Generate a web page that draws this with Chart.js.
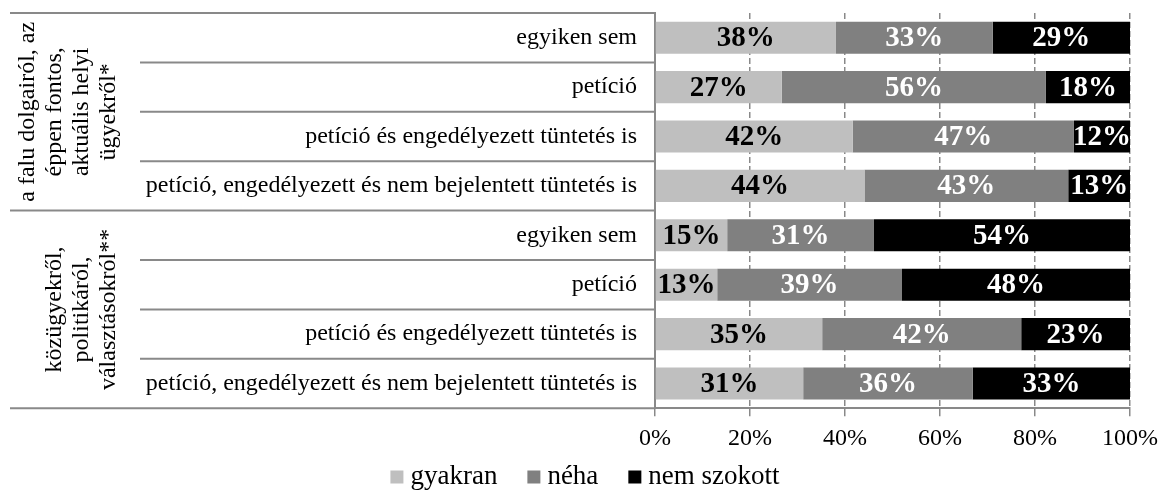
<!DOCTYPE html>
<html>
<head>
<meta charset="utf-8">
<script src="https://cdn.jsdelivr.net/npm/chart.js@4/dist/chart.umd.min.js"></script>
<style>
  html, body { margin: 0; padding: 0; background: #fff; }
  #wrap { width: 1166px; height: 491px; }
</style>
</head>
<body>
<div id="wrap"><canvas id="chart" width="1166" height="491"></canvas></div>
<script>
const categories = [
  'egyiken sem',
  'petíció',
  'petíció és engedélyezett tüntetés is',
  'petíció, engedélyezett és nem bejelentett tüntetés is',
  'egyiken sem',
  'petíció',
  'petíció és engedélyezett tüntetés is',
  'petíció, engedélyezett és nem bejelentett tüntetés is',
];
const groupLabels = [
  ['a falu dolgairól, az', 'éppen fontos,', 'aktuális helyi', 'ügyekről*'],
  ['közügyekről,', 'politikáról,', 'választásokról**'],
];
const groupSizes = [4, 4];
const seriesNames = ['gyakran', 'néha', 'nem szokott'];
const gyakran = [38.1, 26.7, 41.6, 44.1, 15.2, 13.1, 35.2, 31.2];
const neha = [33.0, 55.6, 46.6, 42.9, 30.9, 38.9, 41.9, 35.7];
const nemSzokott = [28.9, 17.7, 11.8, 13.0, 53.9, 48.0, 22.9, 33.1];
const xTicks = [0, 20, 40, 60, 80, 100];

const FONT = '"Liberation Serif", "Times New Roman", serif';
const LINE = '#898989';
const colors = ['#bfbfbf', '#808080', '#000000'];
const labelColors = ['#000000', '#ffffff', '#ffffff'];

// bold percent labels centred in each segment
const segmentLabels = {
  id: 'segmentLabels',
  afterDatasetsDraw(chart) {
    const { ctx } = chart;
    ctx.save();
    ctx.font = 'bold 29px ' + FONT;
    ctx.textAlign = 'center';
    ctx.textBaseline = 'middle';
    chart.data.datasets.forEach((ds, di) => {
      chart.getDatasetMeta(di).data.forEach((bar, i) => {
        ctx.fillStyle = labelColors[di];
        ctx.fillText(Math.round(ds.data[i]) + '%', (bar.x + bar.base) / 2, bar.y + 1);
      });
    });
    ctx.restore();
  },
};

// left-hand table lines, rotated group titles and the legend
const groupTable = {
  id: 'groupTable',
  afterDraw(chart) {
    const { ctx, chartArea, scales } = chart;
    const y = scales.y;
    const left = chartArea.left;
    const edge = i => i <= 0 ? chartArea.top
      : i >= categories.length ? chartArea.bottom
      : (y.getPixelForValue(i - 1) + y.getPixelForValue(i)) / 2;

    ctx.save();
    ctx.strokeStyle = LINE;
    ctx.lineWidth = 2;
    ctx.beginPath();
    let start = 0;
    const groupEdges = [0];
    groupSizes.forEach(n => { start += n; groupEdges.push(start); });
    for (let i = 0; i <= categories.length; i++) {
      const py = edge(i);
      const x0 = groupEdges.includes(i) ? 10 : 140;
      ctx.moveTo(x0, py);
      ctx.lineTo(left, py);
    }
    ctx.stroke();

    ctx.fillStyle = '#000';
    ctx.font = '24px ' + FONT;
    ctx.textAlign = 'center';
    ctx.textBaseline = 'middle';
    groupLabels.forEach((lines, g) => {
      const cy = (edge(groupEdges[g]) + edge(groupEdges[g + 1])) / 2;
      const n = lines.length;
      lines.forEach((txt, k) => {
        const cx = 109 - (n - 1 - k) * 27;
        ctx.save();
        ctx.translate(cx, cy);
        ctx.rotate(-Math.PI / 2);
        ctx.fillText(txt, 0, 0);
        ctx.restore();
      });
    });

    // legend
    ctx.font = '27px ' + FONT;
    ctx.textAlign = 'left';
    const box = 13, gap = 7, spacing = 30, ly = 477;
    const widths = seriesNames.map(s => box + gap + ctx.measureText(s).width);
    const total = widths.reduce((a, b) => a + b, 0) + spacing * (widths.length - 1);
    let lx = 585 - total / 2;
    chart.data.datasets.forEach((ds, i) => {
      ctx.fillStyle = ds.backgroundColor;
      ctx.fillRect(lx, ly - box / 2, box, box);
      ctx.fillStyle = '#000';
      ctx.fillText(ds.label, lx + box + gap, ly);
      lx += widths[i] + spacing;
    });
    ctx.restore();
  },
};

new Chart(document.getElementById('chart'), {
  type: 'bar',
  data: {
    labels: categories,
    datasets: [gyakran, neha, nemSzokott].map((d, i) => ({
      label: seriesNames[i],
      data: d,
      backgroundColor: colors[i],
      borderWidth: 0,
      barPercentage: 0.65,
      categoryPercentage: 1,
    })),
  },
  options: {
    indexAxis: 'y',
    responsive: false,
    animation: false,
    layout: { padding: { left: 10, right: 36, top: 13, bottom: 30 } },
    plugins: {
      tooltip: { enabled: false },
      legend: { display: false },
    },
    scales: {
      x: {
        stacked: true,
        min: 0,
        max: 100,
        afterBuildTicks: s => { s.ticks = xTicks.map(v => ({ value: v })); },
        ticks: {
          callback: v => v + '%',
          font: { family: FONT, size: 24 },
          color: '#000',
          padding: 8,
        },
        grid: {
          color: c => c.tick && c.tick.value === 0 ? 'rgba(0,0,0,0)' : LINE,
          lineWidth: 1.5,
          tickLength: 8,
          tickColor: LINE,
          tickWidth: 1.5,
        },
        border: { color: LINE, width: 2, dash: [6, 3] },
      },
      y: {
        stacked: true,
        afterFit: s => { s.width = 645; s.paddingTop = 0; s.paddingBottom = 0; },
        ticks: {
          font: { family: FONT, size: 24 },
          color: '#000',
          padding: 18,
        },
        grid: { display: false, drawTicks: false },
        border: { color: LINE, width: 2 },
      },
    },
  },
  plugins: [segmentLabels, groupTable],
});
</script>
</body>
</html>
